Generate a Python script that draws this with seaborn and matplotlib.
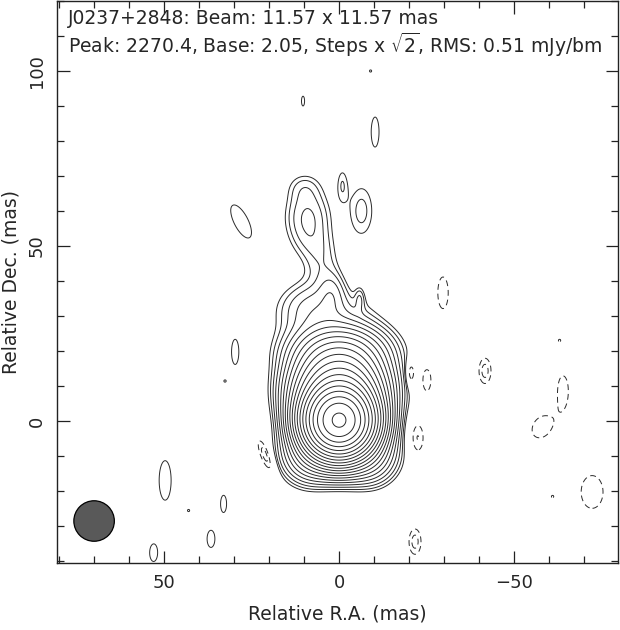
import numpy as np
import matplotlib
matplotlib.use('Agg')
import matplotlib.pyplot as plt
from matplotlib.patches import Ellipse
from matplotlib.ticker import MultipleLocator
import seaborn as sns

# components: RA offset, Dec offset (mas), peak (mJy/bm), widths (mas), tilt (deg)
comp_ra    = [0.0, 0.0, 0.0, 0.0, -9.0, 9.0,
              3.0, 8.0, 5.0, 8.0, 9.0, 10.0, 2.0,
              -6.4, -0.9, -5.9]
comp_dec   = [0.0, 9.0, 20.0, -8.0, -11.0, -11.0,
              30.0, 33.0, 45.0, 51.0, 58.5, 67.0, 37.0,
              60.0, 67.6, 35.0]
comp_peak  = [2180.0, 250.0, 30.0, 25.0, 10.0, 10.0,
              4.0, 4.0, 3.0, 2.0, 5.9, 2.2, 4.0,
              3.3, 2.6, 2.7]
comp_sx    = [4.91, 6.5, 8.0, 7.5, 4.5, 4.5,
              9.0, 6.0, 3.5, 4.0, 4.3, 3.5, 2.5,
              3.0, 1.3, 0.95]
comp_sy    = [4.91, 6.0, 4.5, 5.0, 4.5, 4.5,
              5.0, 5.0, 5.0, 4.0, 5.5, 3.0, 4.0,
              6.5, 4.0, 2.3]
comp_pa    = [0, 0, 0, 0, 0, 0,
              0, 0, 0, 0, 0, 0, 0,
              0, 0, 0]

# isolated noise islands (positive solid, negative dashed)
blob_ra   = [28.0, 29.7, 32.6, 10.3, -10.3, -9.0, 49.7, 43.0, 33.0, 36.6, 53.0, 24.9,
             -29.7, -20.5, -25.0, -41.7, -63.0, -64.0, -58.0, -22.3, -61.0, -72.3, -21.7, 21.0]
blob_dec  = [57.0, 19.7, 11.4, 91.4, 82.6, 100.0, -17.0, -25.6, -23.7, -33.7, -37.7, -4.3,
             36.6, 13.7, 11.7, 14.3, 23.0, 8.8, -1.7, -4.9, -21.6, -20.3, -34.5, -10.0]
blob_peak = [2.7, 2.7, 2.5, 2.7, 2.7, 2.5, 2.7, 2.5, 2.7, 2.7, 2.7, 2.5,
             -2.7, -4.5, -3.0, -3.3, -2.5, -2.75, -2.75, -3.3, -2.5, -2.7, -3.3, -4.0]
blob_sx   = [2.7, 1.35, 0.5, 0.6, 1.5, 0.5, 2.3, 0.5, 1.15, 1.5, 1.5, 0.5,
             2.0, 0.9, 1.5, 1.75, 0.5, 1.9, 3.3, 1.9, 0.5, 4.2, 1.75, 1.3]
blob_sy   = [7.0, 4.7, 0.5, 1.9, 5.7, 0.5, 7.6, 0.5, 3.3, 3.3, 3.3, 0.5,
             6.1, 2.6, 3.9, 3.7, 0.5, 5.3, 4.4, 4.4, 0.5, 6.3, 3.7, 4.5]
blob_pa   = [27, 0, 0, 0, 0, 0, 0, 0, 0, 0, 0, 0,
             0, 0, 0, 0, 0, 0, -35, 0, 0, 0, 0, 21]

base = 2.05
n_levels = 21
beam = 11.57
beam_pos = (70.0, -28.6)

def gauss(X, Y, x0, y0, amp, sx, sy, pa):
    t = np.deg2rad(pa)
    dx, dy = X - x0, Y - y0
    u = dx*np.cos(t) - dy*np.sin(t)
    v = dx*np.sin(t) + dy*np.cos(t)
    return amp*np.exp(-0.5*((u/sx)**2 + (v/sy)**2))

ra = np.arange(82, -82, -0.2)
dec = np.arange(-42, 122, 0.2)
X, Y = np.meshgrid(ra, dec)
img = np.zeros_like(X)
for p in zip(comp_ra, comp_dec, comp_peak, comp_sx, comp_sy, comp_pa):
    img += gauss(X, Y, *p)
for p in zip(blob_ra, blob_dec, blob_peak, blob_sx, blob_sy, blob_pa):
    img += gauss(X, Y, *p)

pos = [base*np.sqrt(2)**k for k in range(n_levels)]
neg = [-base*np.sqrt(2), -base]
levels = neg + pos
styles = [(0, (6, 4))]*len(neg) + ['solid']*len(pos)

sns.set_style('ticks')
plt.rcParams['font.family'] = ['DejaVu Sans']
plt.rcParams['mathtext.fontset'] = 'dejavusans'

fig = plt.figure(figsize=(6.2, 6.3), dpi=100)
ax = fig.add_axes([57/620, 67/630, 561/620, 562/630])
ax.contour(X, Y, img, levels=levels, colors='#2a2a2a', linewidths=0.7, linestyles=styles)

ax.add_patch(Ellipse(beam_pos, beam, beam, facecolor='#595959', edgecolor='black', lw=0.9, zorder=3))

ax.set_xlim(80.6, -79.7)
ax.set_ylim(-40.6, 120.0)
ax.xaxis.set_major_locator(MultipleLocator(50))
ax.xaxis.set_minor_locator(MultipleLocator(10))
ax.yaxis.set_major_locator(MultipleLocator(50))
ax.yaxis.set_minor_locator(MultipleLocator(10))
ax.tick_params(which='both', direction='in', top=True, right=True, width=0.9, color='#222')
ax.tick_params(which='major', length=9, labelsize=13, pad=8)
ax.tick_params(which='minor', length=5)
for lab in ax.get_yticklabels():
    lab.set_rotation(90)
    lab.set_va('center')
for s in ax.spines.values():
    s.set_linewidth(1.0)
    s.set_color('#222')

ax.set_xlabel('Relative R.A. (mas)', fontsize=13.5, labelpad=9)
ax.set_ylabel('Relative Dec. (mas)', fontsize=13.5, labelpad=5)

ax.text(0.02, 0.986, 'J0237+2848: Beam: 11.57 x 11.57 mas', transform=ax.transAxes,
        fontsize=13.5, va='top', ha='left')
ax.text(0.02, 0.946, r'Peak: 2270.4, Base: 2.05, Steps x $\sqrt{2}$, RMS: 0.51 mJy/bm',
        transform=ax.transAxes, fontsize=13.5, va='top', ha='left')

fig.savefig('out.png', dpi=100)
